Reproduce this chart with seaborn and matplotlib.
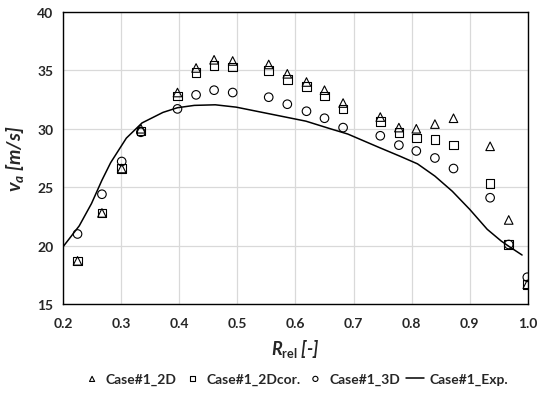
import numpy as np
import pandas as pd
import matplotlib
matplotlib.use('Agg')
import matplotlib.pyplot as plt
import seaborn as sns

# radial positions of the simulated points
r_sim = [0.225, 0.267, 0.301, 0.334, 0.397, 0.429, 0.460, 0.492, 0.554, 0.586,
         0.619, 0.650, 0.682, 0.746, 0.778, 0.808, 0.840, 0.872, 0.935, 0.967, 0.999]

va_2d = [18.7, 22.8, 26.6, 30.0, 33.1, 35.2, 35.9, 35.8, 35.5, 34.7,
         34.0, 33.3, 32.2, 31.0, 30.1, 30.0, 30.4, 30.9, 28.5, 22.2, 16.7]
va_2dcor = [18.7, 22.8, 26.6, 29.8, 32.8, 34.8, 35.4, 35.3, 35.0, 34.2,
            33.6, 32.8, 31.7, 30.6, 29.7, 29.2, 29.1, 28.6, 25.3, 20.1, 16.7]
va_3d = [21.0, 24.4, 27.2, 29.7, 31.7, 32.9, 33.3, 33.1, 32.7, 32.1,
         31.5, 30.9, 30.1, 29.4, 28.6, 28.1, 27.5, 26.6, 24.1, 20.1, 17.3]

# experimental curve
r_exp = [0.200, 0.228, 0.249, 0.267, 0.282, 0.309, 0.336, 0.372, 0.397, 0.426,
         0.462, 0.498, 0.558, 0.618, 0.660, 0.690, 0.744, 0.780, 0.810, 0.840,
         0.870, 0.900, 0.930, 0.954, 0.967, 0.990]
va_exp = [19.9, 21.7, 23.6, 25.6, 27.1, 29.2, 30.5, 31.4, 31.8, 32.0,
          32.05, 31.85, 31.25, 30.65, 30.0, 29.55, 28.4, 27.65, 27.0, 25.95,
          24.65, 23.1, 21.4, 20.4, 19.95, 19.2]

sns.set_style('white')
plt.rcParams['font.family'] = ['Lato', 'DejaVu Sans']
plt.rcParams['mathtext.fontset'] = 'custom'
plt.rcParams['mathtext.it'] = 'Lato:italic:bold'
plt.rcParams['mathtext.rm'] = 'Lato:bold'
plt.rcParams['mathtext.bf'] = 'Lato:bold'

fig = plt.figure(figsize=(5.45, 4.02), dpi=100)
ax = fig.add_axes([0.1156, 0.241, 0.853, 0.727])

mk = dict(facecolor='none', edgecolor='black', linewidth=0.8, s=38, zorder=3)
sns.scatterplot(x=r_sim, y=va_2d, marker='^', ax=ax, label='Case#1_2D', **mk)
sns.scatterplot(x=r_sim, y=va_2dcor, marker='s', ax=ax, label='Case#1_2Dcor.', **mk)
sns.scatterplot(x=r_sim, y=va_3d, marker='o', ax=ax, label='Case#1_3D', **mk)
sns.lineplot(x=r_exp, y=va_exp, color='black', linewidth=1.1, ax=ax,
             label='Case#1_Exp.', sort=False, zorder=2)

ax.set_xlim(0.2, 1.0)
ax.set_ylim(15, 40)
ax.set_xticks(np.arange(0.2, 1.01, 0.1))
ax.set_xticklabels([f'{t:.1f}' for t in np.arange(0.2, 1.01, 0.1)])
ax.set_yticks([15, 20, 25, 30, 35, 40])
ax.grid(True, color='#d9d9d9', linewidth=0.9)
ax.set_axisbelow(True)
for s in ax.spines.values():
    s.set_color('black')
    s.set_linewidth(1.0)
ax.tick_params(axis='x', length=0, labelsize=10, pad=9)
ax.tick_params(axis='y', length=0, labelsize=10, pad=7)
for lab in ax.get_xticklabels() + ax.get_yticklabels():
    lab.set_fontweight('bold')

ax.set_xlabel(r'$R_{\mathrm{rel}}$ [-]', fontsize=13, fontweight='bold',
              fontstyle='italic', labelpad=6)
ax.set_ylabel(r'$v_a$ [m/s]', fontsize=14, fontweight='bold',
              fontstyle='italic', labelpad=8)

leg = ax.legend(loc='center', bbox_to_anchor=(0.5, -0.255), ncol=4,
                frameon=False, fontsize=10, handlelength=1.3, handletextpad=0.35,
                columnspacing=0.45, markerscale=0.6)
for t in leg.get_texts():
    t.set_fontweight('bold')

fig.savefig('out.png', dpi=100)
